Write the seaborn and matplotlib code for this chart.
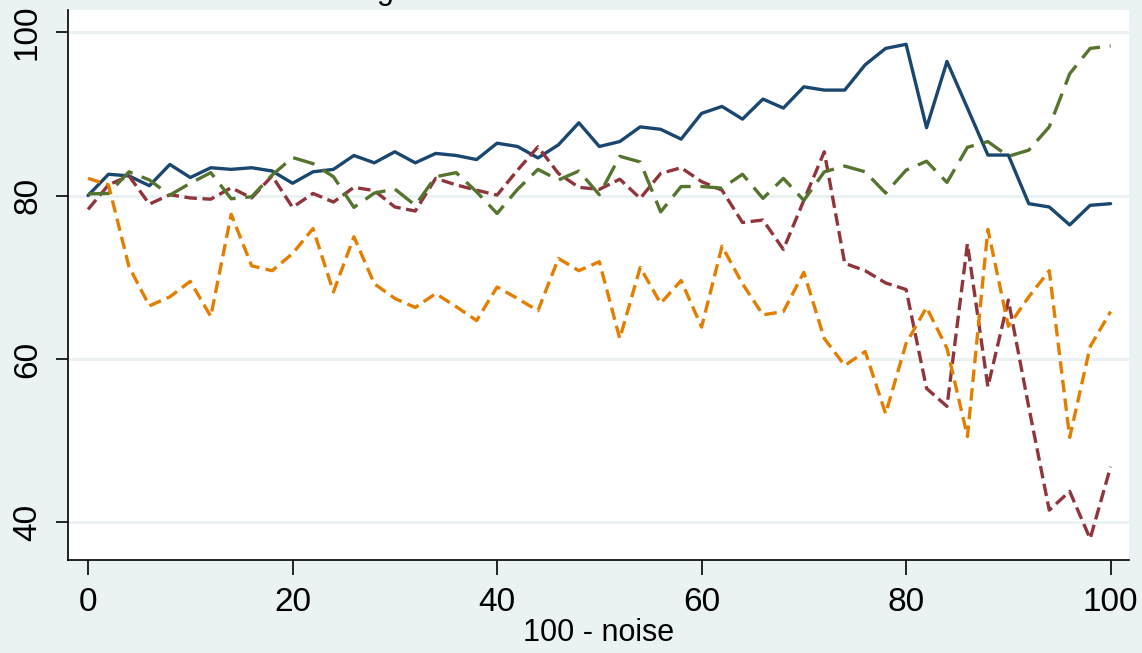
import numpy as np
import pandas as pd
import matplotlib
matplotlib.use("Agg")
import matplotlib.pyplot as plt
import seaborn as sns

# -----------------------------
# Data
# -----------------------------
x_vals = list(range(0, 101, 2))

navy_vals = [80.0, 82.6, 82.4, 81.2, 83.8, 82.2, 83.4, 83.2, 83.4, 83.0,
             81.5, 82.9, 83.2, 84.9, 84.0, 85.35, 84.0, 85.15, 84.9, 84.4,
             86.4, 86.0, 84.6, 86.2, 88.9, 86.0, 86.6, 88.4, 88.1, 86.9,
             90.05, 90.9, 89.35, 91.8, 90.7, 93.3, 92.9, 92.9, 96.0, 98.0,
             98.5, 88.3, 96.4, 90.7, 84.95, 84.95, 79.0, 78.6, 76.4, 78.8,
             79.0]

maroon_vals = [78.3, 81.3, 82.4, 78.95, 80.1, 79.7, 79.55, 80.95, 79.7, 82.4,
               78.55, 80.25, 79.2, 81.0, 80.6, 78.6, 78.1, 82.1, 81.3, 80.65,
               80.05, 83.1, 85.96, 82.7, 81.0, 80.75, 82.0, 79.65, 82.7, 83.4,
               81.7, 80.65, 76.7, 77.0, 73.4, 79.4, 85.35, 71.7, 70.8, 69.3,
               68.5, 56.4, 54.2, 74.1, 56.6, 67.2, 54.1, 41.5, 43.8, 38.0,
               46.8]

green_vals = [80.2, 80.25, 82.9, 81.9, 80.05, 81.5, 82.8, 79.6, 79.85, 82.5,
              84.65, 83.9, 82.3, 78.55, 80.3, 80.8, 78.8, 82.3, 82.8, 80.45,
              77.8, 80.75, 83.2, 81.9, 83.0, 80.1, 84.8, 84.1, 78.0, 81.1,
              81.1, 80.9, 82.6, 79.65, 82.1, 79.4, 82.9, 83.6, 82.9, 80.3,
              83.1, 84.2, 81.6, 85.9, 86.6, 84.8, 85.55, 88.4, 94.9, 98.0,
              98.3]

orange_vals = [82.1, 81.3, 71.3, 66.5, 67.6, 69.5, 65.2, 77.7, 71.4, 70.8,
               72.9, 75.95, 68.2, 74.95, 69.2, 67.4, 66.3, 68.0, 66.4, 64.7,
               68.8, 67.4, 65.9, 72.3, 70.8, 71.9, 62.5, 71.2, 66.8, 69.6,
               63.9, 73.8, 69.2, 65.4, 65.8, 70.6, 62.5, 59.2, 60.9, 53.3,
               61.9, 66.3, 61.3, 50.5, 75.85, 64.0, 67.6, 70.8, 50.4, 61.5,
               65.8]

series_names = ["s1", "s2", "s3", "s4"]
x_ticks = [0, 20, 40, 60, 80, 100]
y_ticks = [40, 60, 80, 100]
x_label = "100 - noise"

# -----------------------------
# Style
# -----------------------------
BG = "#EAF2F3"
palette = {"s1": "#1A476F", "s2": "#90353B", "s3": "#55752F", "s4": "#E37E00"}
dashes = {"s1": "", "s2": (9, 4), "s3": (16, 7), "s4": (9, 4.5)}

sns.set_theme(style="white")
plt.rcParams['font.family'] = ['Liberation Sans Narrow', 'Liberation Sans', 'DejaVu Sans']
plt.rcParams['lines.scale_dashes'] = False
plt.rcParams['text.color'] = 'black'

df = pd.DataFrame({
    "x": x_vals * 4,
    "y": navy_vals + maroon_vals + green_vals + orange_vals,
    "series": sum([[n] * len(x_vals) for n in series_names], []),
})

fig = plt.figure(figsize=(11.42, 6.53), dpi=100, facecolor=BG)
ax = fig.add_axes([68 / 1142, 93 / 653, 1061 / 1142, 550 / 653])
ax.set_facecolor("white")

sns.lineplot(data=df, x="x", y="y", hue="series", style="series",
             palette=palette, dashes=dashes, linewidth=2.4,
             legend=False, ax=ax)

ax.set_xlim(-1.96, 101.8)
ax.set_ylim(35.4, 102.7)
ax.set_xticks(x_ticks)
ax.set_yticks(y_ticks)
ax.set_yticklabels([str(v) for v in y_ticks], rotation=90, va="center")
ax.tick_params(axis="x", direction="out", length=10.5, width=1.2, pad=9,
               labelsize=24, colors="black", bottom=True)
ax.tick_params(axis="y", direction="out", length=9, width=1.2, pad=9,
               labelsize=24, colors="black", left=True)

ax.grid(axis="y", color=BG, linewidth=2.2)
ax.set_axisbelow(True)
for side in ["top", "right"]:
    ax.spines[side].set_visible(False)
for side in ["left", "bottom"]:
    ax.spines[side].set_color("black")
    ax.spines[side].set_linewidth(1.2)

ax.set_xlabel(x_label, fontsize=22, labelpad=0, color="black")
ax.set_ylabel("")

# title is cut off by the top edge, only a descender shows
fig.text(385 / 1142, 1 + 1.5 / 653, "g", ha="center", va="baseline",
         fontsize=22, color="black")

fig.savefig("out.png", dpi=100, facecolor=BG)
